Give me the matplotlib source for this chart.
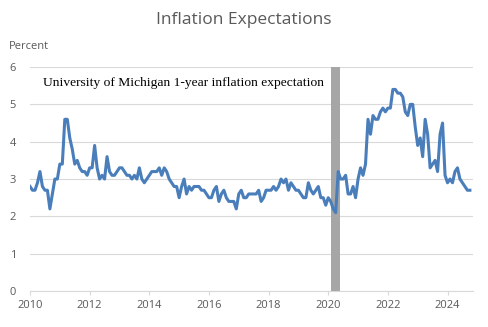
import numpy as np
import matplotlib.pyplot as plt

# University of Michigan 1-year inflation expectation, monthly, Jan 2010 - Oct 2024
start_year = 2010
values = [
    2.8, 2.7, 2.7, 2.9, 3.2, 2.8, 2.7, 2.7, 2.2, 2.6, 3.0, 3.0,  # 2010
    3.4, 3.4, 4.6, 4.6, 4.1, 3.8, 3.4, 3.5, 3.3, 3.2, 3.2, 3.1,  # 2011
    3.3, 3.3, 3.9, 3.3, 3.0, 3.1, 3.0, 3.6, 3.2, 3.1, 3.1, 3.2,  # 2012
    3.3, 3.3, 3.2, 3.1, 3.1, 3.0, 3.1, 3.0, 3.3, 3.0, 2.9, 3.0,  # 2013
    3.1, 3.2, 3.2, 3.2, 3.3, 3.1, 3.3, 3.2, 3.0, 2.9, 2.8, 2.8,  # 2014
    2.5, 2.8, 3.0, 2.6, 2.8, 2.7, 2.8, 2.8, 2.8, 2.7, 2.7, 2.6,  # 2015
    2.5, 2.5, 2.7, 2.8, 2.4, 2.6, 2.7, 2.5, 2.4, 2.4, 2.4, 2.2,  # 2016
    2.6, 2.7, 2.5, 2.5, 2.6, 2.6, 2.6, 2.6, 2.7, 2.4, 2.5, 2.7,  # 2017
    2.7, 2.7, 2.8, 2.7, 2.8, 3.0, 2.9, 3.0, 2.7, 2.9, 2.8, 2.7,  # 2018
    2.7, 2.6, 2.5, 2.5, 2.9, 2.7, 2.6, 2.7, 2.8, 2.5, 2.5, 2.3,  # 2019
    2.5, 2.4, 2.2, 2.1, 3.2, 3.0, 3.0, 3.1, 2.6, 2.6, 2.8, 2.5,  # 2020
    3.0, 3.3, 3.1, 3.4, 4.6, 4.2, 4.7, 4.6, 4.6, 4.8, 4.9, 4.8,  # 2021
    4.9, 4.9, 5.4, 5.4, 5.3, 5.3, 5.2, 4.8, 4.7, 5.0, 5.0, 4.4,  # 2022
    3.9, 4.1, 3.6, 4.6, 4.2, 3.3, 3.4, 3.5, 3.2, 4.2, 4.5, 3.1,  # 2023
    2.9, 3.0, 2.9, 3.2, 3.3, 3.0, 2.9, 2.8, 2.7, 2.7,            # 2024
]
recession = (2020.08, 2020.40)
year_ticks = [2010, 2012, 2014, 2016, 2018, 2020, 2022, 2024]
y_ticks = [0, 1, 2, 3, 4, 5, 6]

dates = start_year + np.arange(len(values)) / 12.0

fig = plt.figure(figsize=(4.88, 3.27), dpi=100)
ax = fig.add_axes([0.0615, 0.110, 0.9075, 0.685])

gray = '#595959'
ax.axvspan(recession[0], recession[1], color='#a6a6a6', lw=0, zorder=1)
ax.plot(dates, values, color='#4a7ebb', lw=2.2, zorder=3)

ax.set_xlim(2010, 2024.85)
ax.set_ylim(0, 6)
ax.set_xticks(year_ticks)
ax.set_yticks(y_ticks)
ax.yaxis.grid(True, color='#d9d9d9', lw=0.8)
ax.set_axisbelow(True)
for s in ['top', 'right', 'left']:
    ax.spines[s].set_visible(False)
ax.spines['bottom'].set_color('#d9d9d9')
ax.tick_params(axis='y', length=0, labelsize=8, labelcolor=gray, pad=10)
ax.tick_params(axis='x', length=3, color='#d9d9d9', labelsize=8, labelcolor=gray)
for lab in ax.get_xticklabels() + ax.get_yticklabels():
    lab.set_family('Open Sans')

fig.text(0.5, 0.94, 'Inflation Expectations', ha='center', va='center',
         fontsize=12.5, color=gray, family='Open Sans')
fig.text(0.018, 0.857, 'Percent', ha='left', va='center',
         fontsize=8, color=gray, family='Open Sans')
ax.text(0.03, 0.955, 'University of Michigan 1-year inflation expectation',
        transform=ax.transAxes, ha='left', va='top', fontsize=9.7,
        color='black', family='Liberation Serif', zorder=4)

fig.savefig('out.png', dpi=100)
